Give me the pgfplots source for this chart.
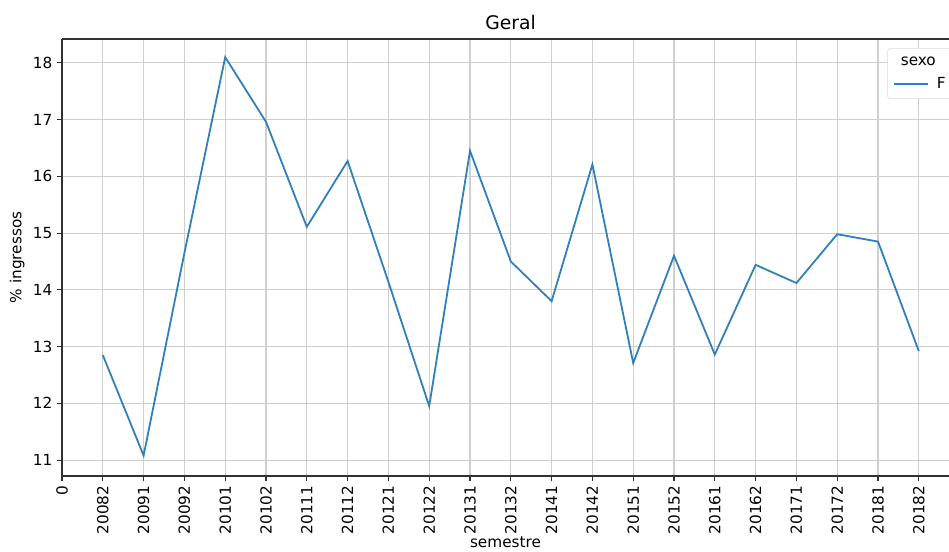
\documentclass[border=0pt]{standalone}
\usepackage{pgfplots}
\pgfplotsset{compat=1.18}
\usepackage{fontspec}
\setmainfont{DejaVu Sans}
\definecolor{mplblue}{RGB}{50,128,186}
\definecolor{spine}{RGB}{50,50,50}
\begin{document}
\begin{tikzpicture}
\begin{axis}[
  scale only axis,
  width=638.6pt, height=314.6pt,
  xmin=0, xmax=21.74,
  ymin=10.72, ymax=18.42,
  axis x line*=box, axis y line*=left,
  axis line style={spine, line width=0.8pt},
  xtick={0,...,21},
  xticklabels={0,20082,20091,20092,20101,20102,20111,20112,20121,20122,20131,20132,20141,20142,20151,20152,20161,20162,20171,20172,20181,20182},
  xtick pos=bottom, ytick pos=left,
  ytick={11,12,13,14,15,16,17,18},
  x tick label style={rotate=90, anchor=east, font=\fontsize{11}{13}\selectfont},
  y tick label style={font=\fontsize{11}{13}\selectfont},
  tick align=outside,
  major tick length=3.5pt,
  tick style={spine, line width=0.8pt},
  /pgf/number format/assume math mode=true,
  grid=major,
  major grid style={gray!38, line width=0.8pt},
  title={Geral},
  title style={font=\fontsize{13.5}{15}\selectfont, xshift=3.6pt, yshift=-3pt},
  xlabel={semestre},
  ylabel={\% ingressos},
  label style={font=\fontsize{11}{13}\selectfont},
  xlabel style={yshift=5pt},
  ylabel style={yshift=-1pt},
  legend style={at={(rel axis cs:1.006,0.979)}, anchor=north east,
    draw=gray!30, rounded corners=2pt, font=\fontsize{11}{13}\selectfont,
    inner xsep=4pt, inner ysep=4pt, row sep=3pt},
  legend image code/.code={\draw[#1] (0cm,0cm) -- (0.85cm,0cm);},
  legend cell align=left,
  clip=false,
]
\coordinate (bl) at (rel axis cs:0,0);
\coordinate (tr) at (rel axis cs:1,1);
\addlegendimage{empty legend}
\addlegendentry{\hspace{-22pt}sexo}
\addplot[mplblue, line width=1.3pt] coordinates {
(1,12.85) (2,11.08) (3,14.65) (4,18.10) (5,16.96) (6,15.11) (7,16.27)
(8,14.14) (9,11.95) (10,16.45) (11,14.50) (12,13.80) (13,16.21)
(14,12.71) (15,14.60) (16,12.86) (17,14.44) (18,14.12) (19,14.98)
(20,14.85) (21,12.92)
};
\addlegendentry{\hspace{4pt}F}
\end{axis}
\pgfresetboundingbox
\path[use as bounding box] ([xshift=-44.64pt,yshift=-54.72pt]bl) rectangle ([yshift=28.08pt]tr);
\end{tikzpicture}
\end{document}
